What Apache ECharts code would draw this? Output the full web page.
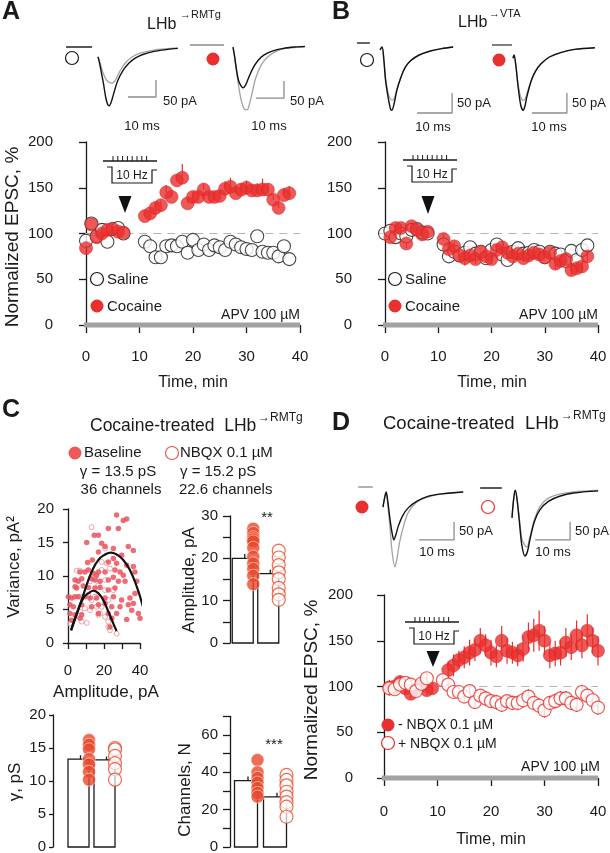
<!DOCTYPE html>
<html><head><meta charset="utf-8">
<script src="https://cdn.jsdelivr.net/npm/echarts@6/dist/echarts.min.js"></script>
<style>html,body{margin:0;padding:0;background:#fff}#c{width:610px;height:853px}</style>
</head><body><div id="c"></div>
<script>
// ---------------- DATA ----------------
// Panel A (LHb->RMTg), time in min, normalized EPSC %
const aTime = [0,1,2,3,4,5,6,7,11,12,13,14,15,16,17,18,19,20,21,22,23,24,25,26,27,28,29,30,31,32,33,34,35,36,37,38];
const aSaline = [92,111,97,104,91,105,106,100,91,86,74,74,86,87,86,91,79,93,82,88,82,87,85,82,91,88,85,83,82,97,80,79,79,75,86,72];
const aCocaine = [84,110,96,100,104,105,102,101,119,122,128,131,145,140,158,161,133,140,140,148,140,140,141,149,151,144,148,150,147,147,148,148,137,128,142,144];
const aCocaineErr = [4,5,4,4,4,5,4,4,4,4,5,5,8,6,6,15,6,6,5,7,5,5,6,8,10,6,6,8,6,8,12,6,6,6,8,8];
// Panel B (LHb->VTA)
const bSalineTime = [0,1,2,3,4,5,6,7,8,11,12,13,14,15,16,17,18,19,20,21,22,23,24,25,26,27,28,29,30,31,32,33,34,35,36,37,38];
const bSaline = [100,103,96,100,97,104,105,101,100,88,75,80,76,79,85,78,80,73,82,88,77,71,80,84,78,79,82,80,74,80,78,77,70,81,71,82,87];
const bCocaineTime = [1,2,3,4,5,6,7,8,11,12,13,14,15,16,17,18,19,20,21,22,23,24,25,26,27,28,29,30,31,32,33,34,35,36,37,38];
const bCocaine = [96,106,106,89,108,104,99,102,94,83,86,76,73,76,72,80,75,72,82,85,79,75,78,73,76,79,77,74,79,67,70,72,60,62,64,75];
const bCocaineErr = [4,4,4,5,4,4,4,4,5,8,5,6,8,5,5,5,5,5,5,5,4,5,5,4,5,5,4,5,5,6,5,5,6,6,5,5];
// Panel D (cocaine-treated LHb->RMTg)
const dMinusTime = [1,2,3,4,5,6,7,8,9,12,13,14,15,16,17,18,19,20,21,22,23,24,25,26,27,28,29,30,31,32,33,34,35,36,37,38,39,40];
const dMinus = [99,100,105,98,92,97,101,96,98,118,123,129,132,137,140,150,145,137,133,150,139,137,134,141,154,156,161,150,134,136,137,148,143,156,145,161,150,139];
const dMinusErr = [8,7,7,6,6,7,6,6,6,10,12,10,12,14,12,14,12,14,12,16,14,12,12,14,16,18,22,16,14,14,14,16,14,16,14,18,14,16];
const dPlusTime = [1,2,3,4,5,6,7,8,11,12,13,14,15,16,17,18,19,20,21,22,23,24,25,26,27,28,29,30,31,32,33,34,35,36,37,38,39,40];
const dPlus = [98,97,102,104,102,95,103,109,107,102,94,94,89,95,83,90,87,84,83,80,84,82,82,85,89,82,79,74,82,84,87,87,82,80,94,90,85,77];
const dPlusErr = [8,6,6,6,6,6,6,6,6,6,7,7,7,7,7,7,8,7,8,8,7,8,8,8,8,7,8,8,8,8,8,8,8,8,8,8,8,8];
// Panel C: variance vs amplitude (pA, pA^2)
const cBaseAmp = [17.8,27.0,30.7,32.6,28.0,22.4,14.6,16.9,10.4,18.7,20.6,25.2,33.5,36.3,16.9,25.2,29.8,10.9,13.5,22.4,27.0,32.6,36.3,37.2,6.7,9.4,11.3,14.1,15.9,16.9,20.6,26.1,28.9,30.7,3.9,5.7,7.6,13.1,15.0,17.8,22.4,25.2,28.0,31.7,38.2,41.9,3.9,4.8,8.5,11.3,15.0,17.8,22.4,26.1,0.2,2.0,3.9,5.7,9.4,12.2,15.9,20.6,25.2,29.8,34.4,37.2,1.1,3.0,7.6,13.1,16.9,20.6,24.3,28.9,33.5,36.3,1.1,3.9,7.6,16.9,22.4,27.0,35.4,39.1,2.0,6.7,24.3,32.6,40.0,40.9,23.3,41.9];
const cBaseVar = [20.5,19.1,18.3,18.5,17.1,17.1,16.1,16.1,15.0,14.9,14.4,14.1,14.4,13.8,13.6,12.6,13.1,12.0,12.4,12.1,11.9,11.6,11.4,10.6,10.6,10.6,10.9,10.4,10.1,10.6,10.6,10.9,10.6,10.1,9.4,9.2,9.6,9.6,9.4,9.2,9.4,9.8,9.2,9.2,9.2,9.2,8.4,8.2,8.5,8.3,8.2,8.3,7.9,8.2,6.9,6.7,6.9,6.9,6.9,6.7,6.7,6.7,6.9,6.4,6.7,7.4,5.7,5.4,5.7,5.4,5.7,5.9,5.4,5.4,5.7,5.9,4.4,4.2,4.2,4.4,4.4,4.4,4.9,4.4,3.4,3.7,3.7,3.5,3.7,2.9,2.4,2.5];
const cNbqxAmp = [13.1,20.6,4.8,6.7,18.7,23.3,12.2,20.6,16.9,15.0,25.2,15.9,18.7,6.7,9.4,12.2,16.9,20.6,7.6,10.4,1.1,22.4,22.4,23.3,27.0,17.8,13.1,11.3,6.7,22.4,20.6,15.0,21.5,18.7];
const cNbqxVar = [17.3,14.1,10.8,10.8,10.9,11.1,9.2,9.4,8.6,6.9,7.9,5.4,5.4,4.7,5.2,4.9,4.2,3.9,3.2,3.0,2.9,3.2,2.4,1.9,1.4,4.4,6.4,7.2,6.9,6.4,7.9,9.6,11.9,12.1];
const cFitBaseAmp = [1.7,5.7,9.4,13.1,16.9,20.6,23.9,27.0,30.7,34.4,38.2,41.9];
const cFitBaseVar = [1.9,4.9,7.9,10.6,12.4,13.2,13.5,13.2,12.4,10.9,8.4,5.2];
const cFitNbqxAmp = [1.7,4.8,8.5,11.3,14.1,16.9,19.6,22.4,25.2,27.0];
const cFitNbqxVar = [1.9,4.4,6.7,7.4,7.8,7.4,6.4,4.7,2.9,1.8];
// Panel C bar charts
const groups = ['Baseline','NBQX 0.1 µM'];
const ampBaseline = [27,26,25,24.5,24,22.5,20.4,18.8,17.5,15.9,13.9];
const ampNbqx = [21.8,20.2,18.4,16.7,15.1,13,11.5,10.2];
const ampMean = [20,16.4], ampSem = [1.0,0.9];
const gammaBaseline = [16.2,15.5,14.8,13.3,12.5,11.4,10.2];
const gammaNbqx = [15,14.8,13.8,12.7,11.8,10.2];
const gammaMean = [13.3,13.2], gammaSem = [0.6,0.5];
const chanBaseline = [46.6,40,37,34.5,31.6,29,27];
const chanNbqx = [38.6,35.9,33,29.6,27,24,21.6,16.2];
const chanMean = [35.5,26.8], chanSem = [2.2,2.2];
// EPSC example traces: [time ms, current pA]
const trA1Black = [[0,-29],[0.5,-45],[1.2,-75],[2,-110],[2.8,-150],[3.5,-170],[4,-173],[4.6,-165],[5.5,-140],[7,-100],[9,-68],[11,-48],[13,-34],[16,-22],[20,-13],[25,-7],[28.5,-4]];
const trA1Gray = [[0,-29],[0.5,-40],[1.2,-60],[2,-80],[3,-97],[4,-104],[5,-106],[6,-100],[7,-85],[8,-68],[10,-45],[12,-30],[15,-18],[20,-9],[25,-5],[28.5,-3]];
const trA2Black = [[0,-6],[0.5,-30],[1.2,-70],[2,-105],[3,-122],[3.6,-126],[4.5,-118],[5.5,-98],[7,-70],[9,-45],[11,-30],[14,-18],[18,-10],[22,-6],[25.7,-4]];
const trA2Gray = [[0,-6],[0.5,-30],[1.2,-75],[2,-120],[3,-165],[4,-188],[5,-191],[6,-170],[7,-135],[8,-100],[10,-60],[12,-38],[15,-20],[19,-10],[25.7,-6]];
const trB1Black = [[0,-17],[0.6,-10],[1.1,-42],[1.6,-94],[2.4,-140],[3,-165],[3.4,-168],[4,-153],[4.8,-119],[6,-85],[7.2,-61],[8.8,-44],[11.2,-30],[14.4,-20],[17.6,-14],[20.9,-10]];
const trB1Gray = [[0,-17],[0.6,-10],[1.1,-42],[1.6,-89],[2.4,-128],[3,-140],[3.6,-143],[4.2,-136],[4.8,-115],[6,-85],[7.2,-61],[8.8,-44],[11.2,-30],[14.4,-20],[17.6,-14],[20.9,-10]];
const trB2Black = [[0,-33],[0.3,-25],[0.8,-50],[1.4,-100],[2.2,-150],[2.9,-163],[3.4,-153],[4,-128],[5.2,-90],[6.4,-66],[8,-47],[10.4,-30],[13.6,-19],[17.6,-11],[23.4,-7]];
const trB2Gray = [[0,-33],[0.3,-25],[0.8,-50],[1.4,-95],[2.2,-130],[2.9,-138],[3.5,-135],[4.2,-115],[5.2,-88],[6.4,-66],[8,-47],[10.4,-30],[13.6,-19],[17.6,-11],[23.4,-7]];
const trD1Black = [[0,-56],[0.4,-33],[0.9,-14],[1.4,-42],[2,-90],[2.6,-128],[3.1,-147],[3.7,-132],[4.4,-108],[5.6,-80],[7.2,-58],[9.6,-40],[12.8,-26],[16.8,-19],[22.9,-14]];
const trD1Gray = [[0,-56],[0.4,-33],[0.9,-14],[1.4,-52],[2,-113],[2.6,-180],[3.4,-222],[4,-198],[4.8,-151],[6,-104],[7.2,-71],[9.6,-42],[12.8,-28],[16.8,-19],[22.9,-14]];
const trD2Black = [[0,-83],[0.4,-37],[0.9,-6],[1.4,-28],[2.1,-93],[2.8,-158],[3.7,-189],[4.4,-177],[5.2,-140],[6.4,-93],[8,-60],[10.4,-37],[13.6,-23],[17.6,-14],[24.6,-8]];
const trD2Gray = [[0,-83],[0.4,-37],[0.9,-6],[1.4,-28],[2.1,-84],[2.8,-140],[3.7,-160],[4.3,-164],[5,-140],[6.4,-88],[8,-51],[10.4,-28],[13.6,-17],[17.6,-11],[24.6,-7]];
const trBaselineSeg = [[-11.4,-2.1],[-15.4,-3.2],[-6.6,-2.9],[-6,-0.3],[-7.1,-2.9],[-9.1,-2.9]];
const scaleBarAt = [[20.7,-147],[18.2,-156],[20.6,-175],[15.4,-170],[20.3,-147],[16.6,-144]]; // corner: [ms, pA]
const scaleMs = 10, scalePa = 50;

// ---------------- STYLE / LAYOUT ----------------
const FONT = '"Liberation Sans", Arial, Helvetica, sans-serif';
const INK = '#1a1a1a';
const RED = '#e8302e';
const CRED = '#e8482c';
const LS = {color: INK, width: 1.3};

const grids = [], xAxes = [], yAxes = [], series = [], els = [];
function addGrid(g){ grids.push(Object.assign({outerBoundsMode:'none', containLabel:false}, g)); return grids.length - 1; }

function timeX(gi, offset, margin){
  return {gridIndex:gi, type:'value', min:0, max:40, interval:10, offset:offset,
    axisLine:{show:true, lineStyle:LS}, axisTick:{show:true, length:8, lineStyle:LS},
    axisLabel:{fontSize:15, color:INK, fontFamily:FONT, margin:margin}, splitLine:{show:false}};
}
function valY(gi, max, interval, offset, tickLen, margin, fmt){
  return {gridIndex:gi, type:'value', min:0, max:max, interval:interval, offset:offset,
    axisLine:{show:true, lineStyle:LS}, axisTick:{show:true, length:tickLen, lineStyle:LS},
    axisLabel:{fontSize:15, color:INK, fontFamily:FONT, margin:margin, formatter:fmt || null, showMaxLabel:true},
    splitLine:{show:false}};
}
function zip(t, v){ return t.map((x,i)=>[x, v[i]]); }
function errSeries(gi, t, v, e, color, upOnly, z){
  return {type:'custom', xAxisIndex:gi, yAxisIndex:gi, z:z, clip:false,
    renderItem:function(p, api){
      const x = api.value(0), y = api.value(1), er = api.value(2);
      const p1 = api.coord([x, upOnly ? y : y - er]);
      const p2 = api.coord([x, y + er]);
      return {type:'line', shape:{x1:p1[0], y1:p1[1], x2:p2[0], y2:p2[1]}, style:{stroke:color, lineWidth:1.2}};
    },
    data: t.map((x,i)=>[x, v[i], e[i]])};
}
function refLines(gi){
  series.push({type:'line', xAxisIndex:gi, yAxisIndex:gi, data:[[-0.5,100],[40,100]], showSymbol:false, clip:false, z:1,
    lineStyle:{color:'#b4b4b4', width:1.2, type:[8,6]}, silent:true});
  series.push({type:'line', xAxisIndex:gi, yAxisIndex:gi, data:[[-0.4,0],[40,0]], showSymbol:false, clip:false, z:1,
    lineStyle:{color:'#a2a2a2', width:5}, silent:true});
}
const openBlack = {color:'#fff', borderColor:INK, borderWidth:1.1};
const fillRed = {color:RED, borderColor:'#d82624', borderWidth:0.6};
const openRed = {color:'#fff', borderColor:RED, borderWidth:1.2};

// ---- Panel A time course
let g = addGrid({left:86, top:142, width:214, height:183});
xAxes.push(timeX(g, 11, 13)); yAxes.push(valY(g, 200, 50, 13, 7, 20));
refLines(g);
series.push({type:'scatter', xAxisIndex:g, yAxisIndex:g, data:zip(aTime, aSaline), symbolSize:13, itemStyle:openBlack, z:3});
series.push(errSeries(g, aTime, aCocaine, aCocaineErr, RED, true, 3));
series.push({type:'scatter', xAxisIndex:g, yAxisIndex:g, data:zip(aTime, aCocaine), symbolSize:13, itemStyle:fillRed, z:4});

// ---- Panel B time course
g = addGrid({left:385, top:142, width:213, height:183});
xAxes.push(timeX(g, 11, 13)); yAxes.push(valY(g, 200, 50, 13, 7, 20));
refLines(g);
series.push({type:'scatter', xAxisIndex:g, yAxisIndex:g, data:zip(bSalineTime, bSaline), symbolSize:13, itemStyle:openBlack, z:3});
series.push(errSeries(g, bCocaineTime, bCocaine, bCocaineErr, RED, false, 3));
series.push({type:'scatter', xAxisIndex:g, yAxisIndex:g, data:zip(bCocaineTime, bCocaine), symbolSize:13, itemStyle:fillRed, z:4});

// ---- Panel D time course
g = addGrid({left:384, top:595, width:214, height:183});
xAxes.push(timeX(g, 11, 15)); yAxes.push(valY(g, 200, 50, 12, 7, 19));
refLines(g);
series.push(errSeries(g, dMinusTime, dMinus, dMinusErr, RED, false, 3));
series.push({type:'scatter', xAxisIndex:g, yAxisIndex:g, data:zip(dMinusTime, dMinus), symbolSize:13, itemStyle:fillRed, z:4});
series.push(errSeries(g, dPlusTime, dPlus, dPlusErr, RED, false, 4));
series.push({type:'scatter', xAxisIndex:g, yAxisIndex:g, data:zip(dPlusTime, dPlus), symbolSize:13, itemStyle:openRed, z:5});

// ---- Panel C scatter (variance vs amplitude)
g = addGrid({left:68, top:509, width:72, height:134});
xAxes.push({gridIndex:g, type:'value', min:0, max:40, interval:10, offset:8,
  axisLine:{show:true, lineStyle:LS}, axisTick:{show:true, length:6, lineStyle:LS},
  axisLabel:{fontSize:15, color:INK, fontFamily:FONT, margin:12, formatter:v=>v%20===0?v:''}, splitLine:{show:false}});
yAxes.push(valY(g, 20, 5, 5, 5, 9));
series.push({type:'scatter', xAxisIndex:g, yAxisIndex:g, data:zip(cNbqxAmp, cNbqxVar), symbolSize:5, z:3,
  itemStyle:{color:'rgba(255,255,255,0.7)', borderColor:'#ec8d93', borderWidth:1}});
series.push({type:'scatter', xAxisIndex:g, yAxisIndex:g, data:zip(cBaseAmp, cBaseVar), symbolSize:5.5, z:3,
  itemStyle:{color:'#e9535d', opacity:0.85}});
series.push({type:'line', xAxisIndex:g, yAxisIndex:g, data:zip(cFitBaseAmp, cFitBaseVar), smooth:0.5, showSymbol:false, z:5, clip:false,
  lineStyle:{color:'#111', width:2.2}});
series.push({type:'line', xAxisIndex:g, yAxisIndex:g, data:zip(cFitNbqxAmp, cFitNbqxVar), smooth:0.5, showSymbol:false, z:5, clip:false,
  lineStyle:{color:'#111', width:2.2}});

// ---- bar chart helpers
function barChart(grid, yax, means, sems, ptsA, ptsB, bw){
  const gi = addGrid(grid);
  xAxes.push({gridIndex:gi, type:'category', data:groups, show:false, boundaryGap:true});
  yAxes.push(yax(gi));
  series.push({type:'custom', xAxisIndex:gi, yAxisIndex:gi, z:2,
    renderItem:function(p, api){
      const c = api.coord([api.value(0), api.value(1)]);
      const b = api.coord([api.value(0), 0]);
      const s = api.coord([api.value(0), api.value(1) + api.value(2)]);
      return {type:'group', children:[
        {type:'rect', shape:{x:c[0]-bw/2, y:c[1], width:bw, height:b[1]-c[1]}, style:{fill:'#fff', stroke:INK, lineWidth:1.3}},
        {type:'line', shape:{x1:c[0]+2, y1:c[1], x2:c[0]+2, y2:s[1]}, style:{stroke:INK, lineWidth:1.3}}
      ]};
    },
    data: means.map((m,i)=>[i, m, sems[i]])});
  series.push({type:'scatter', xAxisIndex:gi, yAxisIndex:gi, z:4, symbolSize:13, symbolOffset:[bw/2,0],
    data: ptsA.map(v=>[0, v]), itemStyle:{color:CRED, borderColor:'rgba(255,235,230,0.9)', borderWidth:0.8}});
  series.push({type:'scatter', xAxisIndex:gi, yAxisIndex:gi, z:4, symbolSize:13, symbolOffset:[bw/2,0],
    data: ptsB.map(v=>[1, v]), itemStyle:{color:'rgba(255,255,255,0.85)', borderColor:CRED, borderWidth:1.2}});
}
barChart({left:230, top:516, width:51, height:127}, gi=>valY(gi, 30, 5, 0, 7, 12, v=>v%10===0?v:''),
  ampMean, ampSem, ampBaseline, ampNbqx, 21);
barChart({left:65.5, top:715, width:52, height:132}, gi=>valY(gi, 20, 5, 12.5, 4, 7),
  gammaMean, gammaSem, gammaBaseline, gammaNbqx, 21);
barChart({left:231.5, top:716.3, width:58, height:130.7}, gi=>valY(gi, 70, 10, 1.5, 7, 12, v=>v%20===0?v:''),
  chanMean, chanSem, chanBaseline, chanNbqx, 23);

// ---- EPSC traces
const traceFrames = [
  {x0:98, y0:47, pxms:2.8, pxpa:0.34, bar:'#111'},
  {x0:233, y0:45, pxms:2.8, pxpa:0.34, bar:'#8a8a8a'},
  {x0:380, y0:43, pxms:3.5, pxpa:0.4, bar:'#333'},
  {x0:513, y0:45, pxms:3.5, pxpa:0.4, bar:'#555'},
  {x0:383, y0:487, pxms:3.5, pxpa:0.36, bar:'#9a9a9a'},
  {x0:512, y0:488, pxms:3.5, pxpa:0.36, bar:'#222'}
];
const traceBlack = [trA1Black, trA2Black, trB1Black, trB2Black, trD1Black, trD2Black];
const traceGray = [trA1Gray, trA2Gray, trB1Gray, trB2Gray, trD1Gray, trD2Gray];
const T0 = -17, T1 = 32, P0 = -260, P1 = 30;
traceFrames.forEach((f, k)=>{
  const gi = addGrid({left:f.x0 + T0*f.pxms, width:(T1-T0)*f.pxms, top:f.y0 - P1*f.pxpa, height:(P1-P0)*f.pxpa});
  xAxes.push({gridIndex:gi, type:'value', min:T0, max:T1, show:false});
  yAxes.push({gridIndex:gi, type:'value', min:P0, max:P1, show:false});
  const base = {type:'line', xAxisIndex:gi, yAxisIndex:gi, showSymbol:false, clip:false, silent:true};
  series.push(Object.assign({}, base, {data:traceGray[k], smooth:0.3, z:2, lineStyle:{color:'#a3a3a3', width:1.3}}));
  series.push(Object.assign({}, base, {data:traceBlack[k], smooth:0.3, z:3, lineStyle:{color:'#111', width:1.4}}));
  const s = trBaselineSeg[k];
  series.push(Object.assign({}, base, {data:[[s[0],0],[s[1],0]], z:2, lineStyle:{color:f.bar, width:1.4}}));
  const c = scaleBarAt[k];
  series.push(Object.assign({}, base, {data:[[c[0]-scaleMs, c[1]],[c[0], c[1]],[c[0], c[1]+scalePa]], z:2,
    lineStyle:{color:'#8c8c8c', width:1.3}}));
});

// ---------------- GRAPHIC ANNOTATIONS ----------------
function txt(x, y, text, size, o){
  o = o || {};
  return {type:'text', x:x, y:y, rotation:o.rot || 0, z:10,
    style:{text:text, font:(o.bold?'bold ':'') + size + 'px ' + FONT, fill:o.fill || INK,
      align:o.align || 'left', textAlign:o.align || 'left', verticalAlign:o.va || 'middle', textVerticalAlign:o.va || 'middle'}};
}
function circ(x, y, r, fill, stroke, lw){
  return {type:'circle', z:10, shape:{cx:x, cy:y, r:r}, style:{fill:fill, stroke:stroke || null, lineWidth:lw || 1.2}};
}
function pl(points, stroke, lw){
  return {type:'polyline', z:10, shape:{points:points}, style:{stroke:stroke || INK, lineWidth:lw || 1.2, fill:null}};
}
function stim(ox, oy){
  els.push(pl([[ox,oy],[ox+54,oy]], INK, 1.3));
  for (let i = 0; i < 8; i++){ const x = ox + 10 + i*4.8; els.push(pl([[x,oy-5],[x,oy]], INK, 1)); }
  els.push(pl([[ox+4,oy+6],[ox+9,oy+6],[ox+9,oy+22],[ox+49,oy+22],[ox+49,oy+9],[ox+54,oy+9]], INK, 1.2));
  els.push(txt(ox+29, oy+15, '10 Hz', 12, {align:'center'}));
}
function arrow(x, yTop, yTip){
  els.push({type:'polygon', z:10, shape:{points:[[x-6.5,yTop],[x+6.5,yTop],[x,yTip]]}, style:{fill:'#111'}});
}

// panel letters
els.push(txt(2, 12, 'A', 25, {bold:true}));
els.push(txt(332, 12, 'B', 25, {bold:true}));
els.push(txt(2, 410, 'C', 25, {bold:true}));
els.push(txt(332, 423, 'D', 25, {bold:true}));
// titles
els.push(txt(147, 25, 'LHb', 16)); els.push(txt(180, 15, '→RMTg', 11));
els.push(txt(458, 23, 'LHb', 16)); els.push(txt(489, 14, '→VTA', 11));
els.push(txt(90, 426, 'Cocaine-treated  LHb', 17.5)); els.push(txt(258, 418, '→RMTg', 12));
els.push(txt(383, 424, 'Cocaine-treated  LHb', 18.5)); els.push(txt(561, 416, '→RMTg', 12));
// trace markers & scale labels
els.push(circ(72, 58, 6.5, '#fff', INK, 1.2));
els.push(circ(213, 59, 6.5, RED));
els.push(circ(367, 60, 6.5, '#fff', INK, 1.2));
els.push(circ(499, 60, 6.5, RED));
els.push(circ(362, 507, 6.5, RED));
els.push(circ(488, 507, 6.5, '#fff', RED, 1.2));
[[163,101,142,126],[290,101,269,126],[457,103,433,127],[572,103,549,127],[459,531,437,552],[575,531,553,552]].forEach(p=>{
  els.push(txt(p[0], p[1], '50 pA', 13));
  els.push(txt(p[2], p[3], '10 ms', 13, {align:'center'}));
});
// stimulation icons + arrows
stim(103, 161); arrow(125, 196, 213);
stim(403, 160); arrow(428, 196, 214);
stim(405, 622); arrow(433, 651, 667);
// legends time courses
els.push(circ(97, 279, 6.5, '#fff', INK, 1.2)); els.push(txt(107, 280, 'Saline', 15));
els.push(circ(97, 306, 6.5, RED)); els.push(txt(107, 307, 'Cocaine', 15));
els.push(circ(395, 279, 6.5, '#fff', INK, 1.2)); els.push(txt(405, 280, 'Saline', 15));
els.push(circ(395, 306, 6.5, RED)); els.push(txt(405, 307, 'Cocaine', 15));
els.push(circ(388, 725, 6.5, RED)); els.push(txt(398, 725, '- NBQX 0.1 µM', 14));
els.push(circ(388, 743, 6.5, '#fff', RED, 1.2)); els.push(txt(398, 744, '+ NBQX 0.1 µM', 14));
// APV labels
els.push(txt(300, 315, 'APV 100 µM', 14, {align:'right'}));
els.push(txt(598, 315, 'APV 100 µM', 14, {align:'right'}));
els.push(txt(600, 767, 'APV 100 µM', 14, {align:'right'}));
// axis titles
els.push(txt(13, 237, 'Normalized EPSC, %', 19, {align:'center', rot:Math.PI/2}));
els.push(txt(312, 690, 'Normalized EPSC, %', 19, {align:'center', rot:Math.PI/2}));
els.push(txt(193, 383, 'Time, min', 16, {align:'center'}));
els.push(txt(492, 383, 'Time, min', 16, {align:'center'}));
els.push(txt(491, 840, 'Time, min', 16, {align:'center'}));
// panel C legend/texts
els.push(circ(75, 453, 6.5, '#ee5a5c')); els.push(txt(84, 453, 'Baseline', 15));
els.push(circ(172, 453, 6.5, '#fff', '#ea5d4b', 1.2)); els.push(txt(180, 453, 'NBQX 0.1 µM', 15));
els.push(txt(118, 472, 'γ = 13.5 pS', 15, {align:'center'}));
els.push(txt(121, 490, '36 channels', 15, {align:'center'}));
els.push(txt(180, 472, 'γ = 15.2 pS', 15));
els.push(txt(179, 490, '22.6 channels', 15));
els.push(txt(14, 567, 'Variance, pA²', 17, {align:'center', rot:Math.PI/2}));
els.push(txt(106, 692, 'Amplitude, pA', 17, {align:'center'}));
els.push(txt(189, 580, 'Amplitude, pA', 17, {align:'center', rot:Math.PI/2}));
els.push(txt(15, 782, 'γ, pS', 17, {align:'center', rot:Math.PI/2}));
els.push(txt(185, 790, 'Channels, N', 17, {align:'center', rot:Math.PI/2}));
els.push(txt(267, 518, '**', 15, {align:'center'}));
els.push(txt(274, 745, '***', 15, {align:'center'}));

const chart = echarts.init(document.getElementById('c'), null, {renderer:'canvas'});
chart.setOption({
  animation:false, backgroundColor:'#fff',
  textStyle:{fontFamily:FONT},
  grid:grids, xAxis:xAxes, yAxis:yAxes, series:series,
  graphic:{elements:els}
});
</script>
</body></html>
